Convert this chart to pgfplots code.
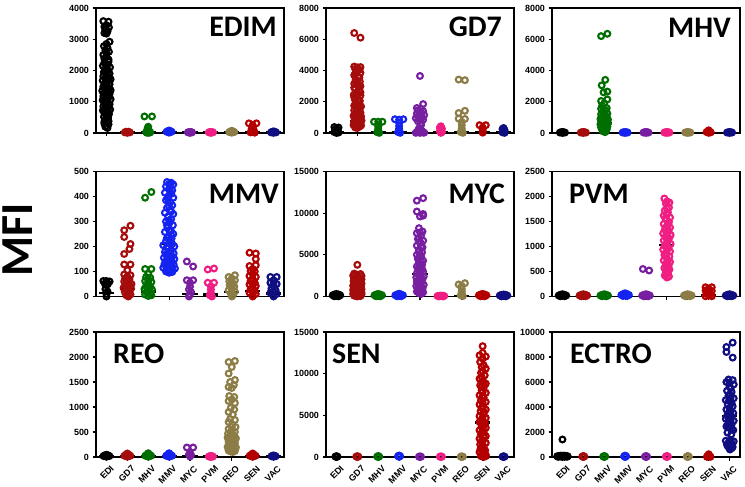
\documentclass[border=0pt]{standalone}
\usepackage{fontspec}
\setmainfont{Liberation Sans}
\newfontfamily\titlefont{Carlito}
\usepackage{pgfplots}
\pgfplotsset{compat=1.18}
\definecolor{cEDI}{RGB}{0,0,0}
\definecolor{cGD7}{RGB}{165,12,12}
\definecolor{cMHV}{RGB}{0,110,0}
\definecolor{cMMV}{RGB}{20,35,240}
\definecolor{cMYC}{RGB}{120,30,160}
\definecolor{cPVM}{RGB}{240,30,130}
\definecolor{cREO}{RGB}{140,125,70}
\definecolor{cSEN}{RGB}{180,0,0}
\definecolor{cVAC}{RGB}{15,15,130}
\newcommand{\tl}{\fontsize{9}{10}\selectfont\bfseries}
\newcommand{\ttl}{\titlefont\bfseries\fontsize{30}{30}\selectfont}
\pgfplotsset{
  panel/.style={scale only axis, width=188bp, height=125bp,
    xmin=0.5, xmax=9.5, ymin=0, clip=false,
    axis line style={line width=1.2bp, black},
    tick style={line width=1.2bp, black},
    tick align=outside, major tick length=3.5bp,
    xtick={1,2,3,4,5,6,7,8,9}, xticklabels={},
    ytick pos=left, xtick pos=bottom,
    tick label style={font=\tl},
    scaled y ticks=false,
    /pgf/number format/assume math mode=true,
    /pgf/number format/1000 sep={}},
  bottomrow/.style={xticklabels={EDI,GD7,MHV,MMV,MYC,PVM,REO,SEN,VAC},
    xticklabel style={rotate=45, anchor=north east, inner sep=0pt, xshift=-0.5bp, yshift=-5.5bp}},
  mk/.style={only marks, mark=o, mark size=2.9bp, draw=#1,
    mark options={line width=2.1bp, draw=#1, fill=none}},
  med/.style={black, line width=2.2bp, no marks},
}
\begin{document}
\begin{tikzpicture}
\useasboundingbox (0,0) rectangle (745bp,487bp);
% ---------------- EDIM ----------------
\begin{axis}[panel, at={(96bp,354bp)}, anchor=south west, ymax=4000, ytick={0,1000,2000,3000,4000}]
\addplot[mk=cEDI] coordinates {(0.85,3580)(1.1,3560)(0.9,3400)(1.12,3380)(0.95,3320)(1.05,3250)(0.9,3200)(1.0,3180)
(1.15,2920)(0.88,2780)(1.05,2720)(0.95,2650)(1.12,2600)(0.85,2500)(1.0,2450)(1.1,2350)
(0.9,2250)(1.05,2200)(0.83,2150)(1.17,2100)(0.95,2050)(1.08,2000)(0.88,1950)(1.15,1900)
(1.0,1880)(0.85,1820)(1.1,1800)(0.95,1750)(1.2,1720)(0.82,1680)(1.05,1650)(0.92,1600)
(1.15,1560)(1.0,1520)(0.85,1480)(1.1,1450)(0.95,1400)(1.2,1370)(0.8,1350)(1.05,1320)
(0.9,1280)(1.15,1250)(1.0,1220)(0.85,1180)(1.1,1150)(0.95,1100)(1.2,1080)(0.82,1050)
(1.05,1000)(0.9,960)(1.15,920)(1.0,880)(0.85,850)(1.1,820)(0.95,780)(1.18,750)(0.83,720)(1.05,680)(0.92,640)(1.12,600)(1.0,560)(0.88,520)(1.08,480)(0.95,420)
(0.9,300)(1.1,280)(0.95,200)(1.05,160)
(1.0,2550)(0.9,2380)(1.1,2280)(1.0,2120)(0.92,1980)(1.1,1680)(0.9,1520)(1.0,1420)(1.12,1320)(0.95,1180)(1.05,1080)(0.9,1000)(1.0,780)(0.9,700)(1.1,650)(1.0,460)(1.1,380)(0.9,360)(1.0,3450)(1.0,2850)};
\addplot[mk=cGD7] coordinates {(1.88,20)(1.94,40)(2,30)(2.06,40)(2.12,20)(2,5)};
\addplot[mk=cMHV] coordinates {(2.82,530)(3.18,530)(3,200)(2.97,150)(3.02,100)(3,60)(2.9,30)(3.1,20)(2.95,5)(3.05,10)};
\addplot[mk=cMMV] coordinates {(3.88,40)(3.94,60)(4,80)(4.06,60)(4.12,40)(4,10)};
\addplot[mk=cMYC] coordinates {(4.9,20)(4.95,30)(5,20)(5.05,30)(5.1,20)(5,5)};
\addplot[mk=cPVM] coordinates {(5.9,20)(5.95,30)(6,20)(6.05,30)(6.1,20)(6,5)};
\addplot[mk=cREO] coordinates {(6.88,30)(6.94,50)(7,70)(7.06,50)(7.12,30)(7,10)};
\addplot[mk=cSEN] coordinates {(7.82,310)(8.18,310)(8,250)(8,180)(7.95,130)(8.05,90)(8,50)(7.9,20)(8.1,10)};
\addplot[mk=cVAC] coordinates {(8.88,20)(8.94,40)(9,50)(9.06,40)(9.12,20)(9,5)};
\addplot[med] coordinates {(0.64,1300)(1.36,1300)};
\addplot[med] coordinates {(1.64,20)(2.36,20)};
\addplot[med] coordinates {(2.64,25)(3.36,25)};
\addplot[med] coordinates {(3.64,20)(4.36,20)};
\addplot[med] coordinates {(4.64,15)(5.36,15)};
\addplot[med] coordinates {(5.64,15)(6.36,15)};
\addplot[med] coordinates {(6.64,25)(7.36,25)};
\addplot[med] coordinates {(7.64,30)(8.36,30)};
\addplot[med] coordinates {(8.64,15)(9.36,15)};
\end{axis}
% ---------------- GD7 ----------------
\begin{axis}[panel, at={(326bp,354bp)}, anchor=south west, ymax=8000, ytick={0,2000,4000,6000,8000}]
\addplot[mk=cEDI] coordinates {(0.9,380)(1.1,350)(1,280)(0.95,200)(1.05,120)(0.9,60)(1.1,30)(1,5)};
\addplot[mk=cGD7] coordinates {(1.85,6400)(2.15,6100)(1.85,4250)(2,4200)(2.15,4220)(1.9,4100)(2.1,4050)(1.95,3900)(2.15,3850)(1.85,3700)(2.05,3600)(1.92,3400)(2.12,3300)(1.85,3150)(2,3100)(2.15,3000)(1.9,2850)(2.08,2700)(1.95,2550)(1.83,2450)(2.15,2400)(2,2300)(1.88,2150)(2.12,2050)(1.95,1950)(2.05,1850)(1.85,1750)(2.18,1700)(1.95,1600)(2.1,1500)(1.85,1450)(2,1400)(2.15,1300)(1.9,1250)(2.05,1150)(1.82,1100)(2.18,1050)(1.95,1000)(2.1,950)(1.88,900)(2.05,850)(2.2,800)(1.85,750)(2,700)(2.15,650)(1.9,600)(2.05,550)(1.82,500)(2.18,480)(1.95,450)(2.1,400)(1.9,350)(2,320)
(2,4000)(1.9,3800)(2.1,3550)(2,3350)(1.95,3200)(2.05,2950)(1.85,2900)(2.15,2600)(2,2500)(1.85,2300)(2.05,2100)(1.9,1800)(2.1,1650)(2,1550)(1.95,1200)(2.1,1100)(2,1050)(2.1,700)(1.85,650)};
\addplot[mk=cMHV] coordinates {(2.8,720)(3,720)(3.2,720)(3,550)(3,400)(3,250)(3,120)(2.95,50)(3.05,10)};
\addplot[mk=cMMV] coordinates {(3.8,880)(4,850)(4.2,880)(4,650)(4,450)(4,280)(4,150)(3.95,60)(4.05,10)};
\addplot[mk=cMYC] coordinates {(5,3650)(5.15,1850)(4.85,1600)(5.05,1550)(4.9,1450)(5.15,1400)(4.85,1250)(5,1200)(5.2,1150)(4.9,1050)(5.1,1000)(4.8,950)(5,900)(5.15,850)(4.9,750)(5.05,500)(4.95,300)(5,150)(4.85,50)(5.15,30)(5,5)(4.8,10)(5.2,20)(5,1350)(4.95,1000)(5.05,650)(4.9,150)(5.1,120)};
\addplot[mk=cPVM] coordinates {(6,430)(5.95,350)(6.05,280)(6,200)(5.95,120)(6.05,60)(6,10)};
\addplot[mk=cREO] coordinates {(6.85,3420)(7.15,3380)(7.15,1420)(6.85,1280)(6.85,920)(7.15,900)(7,700)(7,500)(7,300)(7,150)(6.95,60)(7.05,10)};
\addplot[mk=cSEN] coordinates {(7.85,500)(8.15,500)(8,350)(8,200)(8,100)(8,20)};
\addplot[mk=cVAC] coordinates {(9,320)(8.95,250)(9.05,180)(9,100)(8.95,40)(9.05,10)};
\addplot[med] coordinates {(0.64,40)(1.36,40)};
\addplot[med] coordinates {(1.64,760)(2.36,760)};
\addplot[med] coordinates {(2.64,40)(3.36,40)};
\addplot[med] coordinates {(3.64,40)(4.36,40)};
\addplot[med] coordinates {(4.64,40)(5.36,40)};
\addplot[med] coordinates {(5.64,30)(6.36,30)};
\addplot[med] coordinates {(6.64,40)(7.36,40)};
\addplot[med] coordinates {(7.64,40)(8.36,40)};
\addplot[med] coordinates {(8.64,30)(9.36,30)};
\end{axis}
% ---------------- MHV ----------------
\begin{axis}[panel, at={(552bp,354bp)}, anchor=south west, ymax=8000, ytick={0,2000,4000,6000,8000}]
\addplot[mk=cEDI] coordinates {(0.88,30)(0.94,50)(1,60)(1.06,50)(1.12,30)(1,5)};
\addplot[mk=cGD7] coordinates {(1.88,30)(1.94,50)(2,60)(2.06,50)(2.12,30)(2,5)};
\addplot[mk=cMHV] coordinates {(2.85,6200)(3.15,6350)(3.05,3400)(2.88,3050)(3.15,2650)(2.97,2600)(3.15,2150)(2.85,2050)(3.0,1900)(2.9,1750)(3.12,1600)(2.85,1550)(3.05,1450)(2.95,1350)(3.15,1250)(2.85,1200)(3,1100)(3.12,1050)(2.9,1000)(3.05,950)(2.82,900)(3.18,850)(2.95,800)(3.1,750)(2.85,700)(3.0,650)(3.18,600)(2.82,550)(3.05,500)(2.92,450)(3.15,400)(2.85,350)(3,300)(3.12,250)(2.9,200)(3.05,150)
(3,1300)(2.95,1150)(3.05,900)(3,700)(3.05,580)(2.95,480)(3,380)(3.1,320)(2.9,280)(3,220)(3.1,180)(2.95,100)(3.05,60)};
\addplot[mk=cMMV] coordinates {(3.88,30)(3.94,50)(4,60)(4.06,50)(4.12,30)(4,5)};
\addplot[mk=cMYC] coordinates {(4.88,30)(4.94,50)(5,60)(5.06,50)(5.12,30)(5,5)};
\addplot[mk=cPVM] coordinates {(5.88,30)(5.94,50)(6,60)(6.06,50)(6.12,30)(6,5)};
\addplot[mk=cREO] coordinates {(6.88,30)(6.94,50)(7,60)(7.06,50)(7.12,30)(7,5)};
\addplot[mk=cSEN] coordinates {(8,170)(7.9,60)(7.95,90)(8.05,90)(8.1,40)(8,10)};
\addplot[mk=cVAC] coordinates {(8.88,30)(8.94,50)(9,60)(9.06,50)(9.12,30)(9,5)};
\addplot[med] coordinates {(2.64,620)(3.36,620)};
\addplot[med] coordinates {(0.64,20)(2.36,20)};
\addplot[med] coordinates {(3.64,20)(9.36,20)};
\end{axis}
% ---------------- MMV ----------------
\begin{axis}[panel, at={(96bp,190.5bp)}, anchor=south west, ymax=500, ytick={0,100,200,300,400,500}]
\addplot[mk=cEDI] coordinates {(0.85,62)(1.0,62)(1.15,60)(0.93,50)(1.07,50)(1,45)(0.95,30)(1.05,20)(1,10)(1,0)};
\addplot[mk=cGD7] coordinates {(2.15,283)(1.85,265)(1.85,238)(2.15,210)(2.1,190)(1.85,170)(1.85,128)(2.15,128)(2,105)(1.85,88)(2.15,85)(2,80)(1.9,72)(2.1,68)(1.85,60)(2.05,55)(2.2,50)(1.9,45)(2.05,40)(1.82,35)(2.18,32)(1.95,28)(2.1,22)(1.88,18)(2.02,12)(2.15,8)(1.95,5)(2.05,0)(2,65)(1.95,50)(2,35)(2.1,45)};
\addplot[mk=cMHV] coordinates {(2.85,395)(3.15,418)(2.85,110)(3.15,110)(2.9,78)(3.1,75)(3,70)(2.85,62)(3.15,58)(3,50)(2.9,42)(3.1,38)(2.82,30)(3.18,28)(3,25)(2.92,18)(3.08,14)(2.85,8)(3.15,5)(3,2)(3,90)(3,60)(3,38)};
\addplot[mk=cMMV] coordinates {(3.9,458)(4.1,455)(4.2,448)(3.85,440)(4.0,432)(4.15,425)(3.8,415)(4.1,410)(3.95,400)(4.2,395)(3.85,385)(4.05,378)(4.15,365)(3.9,355)(4.05,345)(3.8,335)(4.2,330)(3.95,320)(4.1,310)(3.85,300)(4.02,295)(4.18,285)(3.92,275)(4.08,265)(3.8,258)(4.2,250)(3.98,240)(4.12,232)(3.85,222)(4.05,215)(3.72,205)(4.25,200)(3.95,192)(4.1,185)(3.8,178)(4.22,172)(3.92,165)(4.05,160)(3.75,155)(4.25,150)(3.88,145)(4.12,140)(4.0,135)(3.78,130)(4.22,128)(3.9,122)(4.1,118)(3.72,115)(4.28,112)(3.95,108)(4.05,104)(3.85,100)(4.15,98)(4.0,95)
(4.0,450)(4.05,420)(3.95,390)(4.0,360)(4.1,340)(4.0,305)(3.9,285)(4.0,265)(4.1,245)(3.9,235)(4.0,225)(4.15,210)(3.9,200)(4.0,178)(3.85,168)(4.15,160)(3.95,150)(4.05,145)(3.9,135)(4.1,130)(3.85,120)(4,115)(4.15,108)(3.88,105)(4.08,100)};
\addplot[mk=cMYC] coordinates {(4.85,140)(5.15,120)(4.85,65)(5.15,65)(5,55)(5,40)(4.95,28)(5.05,18)(5,8)(4.95,0)};
\addplot[mk=cPVM] coordinates {(5.85,108)(6.15,112)(5.85,55)(6.15,55)(6,40)(6,28)(6,15)(5.95,5)(6.05,0)};
\addplot[mk=cREO] coordinates {(7.15,85)(6.85,78)(7,72)(7.15,65)(6.88,60)(7.05,52)(6.9,45)(7.12,40)(7,32)(6.85,25)(7.15,20)(6.95,12)(7.05,5)(7,0)(7,58)(7,42)(7,20)};
\addplot[mk=cSEN] coordinates {(7.85,175)(8.15,172)(8.15,150)(7.85,122)(8.15,125)(7.9,102)(8.1,100)(8,90)(7.85,82)(8.15,78)(8,70)(7.9,62)(8.1,55)(7.85,48)(8.15,42)(8,36)(7.9,28)(8.1,22)(7.85,15)(8.15,10)(8,5)(8,0)(8,110)(8,50)(8,18)};
\addplot[mk=cVAC] coordinates {(8.85,78)(9.15,78)(9,65)(8.85,55)(9.15,50)(9,42)(8.9,32)(9.1,25)(8.85,15)(9.15,10)(9,5)(9,0)(9,52)(9,20)};
\addplot[med] coordinates {(0.64,15)(1.36,15)};
\addplot[med] coordinates {(1.64,30)(2.36,30)};
\addplot[med] coordinates {(2.64,20)(3.36,20)};
\addplot[med] coordinates {(3.64,210)(4.36,210)};
\addplot[med] coordinates {(4.64,10)(5.36,10)};
\addplot[med] coordinates {(5.64,8)(6.36,8)};
\addplot[med] coordinates {(6.64,18)(7.36,18)};
\addplot[med] coordinates {(7.64,22)(8.36,22)};
\addplot[med] coordinates {(8.64,12)(9.36,12)};
\end{axis}
% ---------------- MYC ----------------
\begin{axis}[panel, at={(326bp,190.5bp)}, anchor=south west, ymax=15000, ytick={0,5000,10000,15000}]
\addplot[mk=cEDI] coordinates {(0.82,150)(0.91,250)(1,300)(1.09,250)(1.18,150)(0.9,30)(1.1,30)(1,80)};
\addplot[mk=cGD7] coordinates {(2,3800)(1.85,2750)(2.15,2700)(2,2600)(1.8,2500)(2.2,2450)(1.95,2350)(2.1,2250)(1.85,2150)(2.2,2050)(2,1950)(1.82,1850)(2.12,1750)(1.95,1650)(2.2,1550)(1.85,1450)(2.05,1400)(1.8,1300)(2.18,1250)(1.95,1150)(2.1,1100)(1.85,1000)(2,950)(2.2,850)(1.8,800)(2.05,750)(1.92,650)(2.15,600)(1.82,550)(2,500)(2.2,450)(1.9,400)(2.08,350)(1.8,300)(2.2,250)(1.95,200)(2.05,150)(1.85,100)(2.15,50)(2,10)
(2,2300)(1.98,2000)(2,1700)(2,1200)(1.98,900)(2.05,400)(1.95,50)};
\addplot[mk=cMHV] coordinates {(2.82,150)(2.91,250)(3,300)(3.09,250)(3.18,150)(2.9,30)(3.1,30)(3,80)};
\addplot[mk=cMMV] coordinates {(3.82,150)(3.91,250)(4,330)(4.09,250)(4.18,150)(3.9,30)(4.1,30)(4,80)};
\addplot[mk=cMYC] coordinates {(5.15,11800)(4.85,11500)(4.85,10200)(5.15,9900)(5.0,9600)(5.15,9700)(4.95,8200)(5.12,7800)(4.85,7600)(5.05,7300)(4.9,6900)(5.15,6700)(5,6400)(4.85,6100)(5.12,5900)(4.95,5600)(5.1,5300)(4.85,5000)(5.05,4800)(4.9,4500)(5.15,4300)(4.95,4000)(5.1,3800)(4.85,3600)(5.05,3400)(4.92,3200)(5.15,3000)(4.85,2800)(5.02,2600)(5.18,2400)(4.82,2300)(4.95,2100)(5.1,1950)(4.85,1800)(5.05,1650)(4.9,1500)(5.18,1400)(4.82,1250)(5,1100)(5.12,950)(4.9,850)(5.05,700)(4.85,600)(5.15,500)(4.95,400)(5.05,300)
(5,7700)(4.95,7000)(5,6600)(5.05,6000)(4.95,5400)(5,5100)(4.95,4700)(5.05,4200)(5,3900)(4.95,3500)(5.1,3300)(5,2900)(4.95,2500)(5.08,2200)(5,2000)(4.95,1700)(5.05,1300)(4.95,1000)(5.05,550)};
\addplot[mk=cPVM] coordinates {(5.84,60)(5.92,90)(6,110)(6.08,90)(6.16,60)(5.92,10)(6.08,10)};
\addplot[mk=cREO] coordinates {(6.85,1450)(7.15,1600)(7,1250)(7,900)(7,600)(7,350)(6.95,150)(7.05,50)};
\addplot[mk=cSEN] coordinates {(7.82,150)(7.91,250)(8,300)(8.09,250)(8.18,150)(7.9,30)(8.1,30)(8,80)};
\addplot[mk=cVAC] coordinates {(8.82,120)(8.91,200)(9,240)(9.09,200)(9.18,120)(8.9,20)(9.1,20)(9,60)};
\addplot[med] coordinates {(1.64,650)(2.36,650)};
\addplot[med] coordinates {(4.64,2700)(5.36,2700)};
\addplot[med] coordinates {(6.64,100)(7.36,100)};
\end{axis}
% ---------------- PVM ----------------
\begin{axis}[panel, at={(552bp,190.5bp)}, anchor=south west, ymax=2500, ytick={0,500,1000,1500,2000,2500}]
\addplot[mk=cEDI] coordinates {(0.82,20)(0.91,35)(1,45)(1.09,35)(1.18,20)(0.9,5)(1.1,5)};
\addplot[mk=cGD7] coordinates {(1.82,20)(1.91,35)(2,45)(2.09,35)(2.18,20)(1.9,5)(2.1,5)};
\addplot[mk=cMHV] coordinates {(2.82,20)(2.91,35)(3,45)(3.09,35)(3.18,20)(2.9,5)(3.1,5)};
\addplot[mk=cMMV] coordinates {(3.82,30)(3.91,50)(4,65)(4.09,50)(4.18,30)(3.9,10)(4.1,10)};
\addplot[mk=cMYC] coordinates {(4.85,550)(5.15,520)(4.82,20)(4.91,35)(5,45)(5.09,35)(5.18,20)(4.9,5)(5.1,5)};
\addplot[mk=cPVM] coordinates {(5.88,1960)(6.12,1880)(5.95,1860)(6.1,1780)(5.9,1720)(6.05,1680)(5.85,1620)(6.15,1580)(5.98,1540)(6.1,1490)(5.85,1450)(6.02,1420)(6.15,1380)(5.9,1340)(6.08,1300)(5.82,1260)(6.18,1230)(5.95,1200)(6.1,1160)(5.85,1120)(6.02,1080)(6.18,1050)(5.9,1010)(6.08,970)(5.82,940)(6.15,900)(5.98,870)(5.88,830)(6.12,800)(6,760)(5.85,720)(6.15,690)(5.95,650)(6.08,610)(5.88,570)(6.12,540)(5.95,500)(6.05,460)(5.9,420)(6.1,400)(6,380)
(6,1900)(6,1760)(6,1640)(5.92,1560)(6.05,1470)(5.95,1380)(6.05,1330)(5.98,1250)(6,1140)(5.95,1040)(6.02,990)(6,920)(5.95,860)(6.05,720)(6,680)(5.98,600)(6.02,520)(5.95,440)};
\addplot[mk=cREO] coordinates {(6.82,20)(6.91,35)(7,45)(7.09,35)(7.18,20)(6.9,5)(7.1,5)};
\addplot[mk=cSEN] coordinates {(7.85,185)(8.15,185)(8,150)(7.85,120)(8.15,110)(8,80)(7.9,50)(8.1,40)(8,20)(7.85,5)(8.15,5)(8,120)(7.95,60)};
\addplot[mk=cVAC] coordinates {(8.82,20)(8.91,35)(9,45)(9.09,35)(9.18,20)(8.9,5)(9.1,5)};
\addplot[med] coordinates {(5.64,1030)(6.36,1030)};
\addplot[med] coordinates {(7.64,30)(8.36,30)};
\end{axis}
% ---------------- REO ----------------
\begin{axis}[panel, bottomrow, at={(96bp,30bp)}, anchor=south west, ymax=2500, ytick={0,500,1000,1500,2000,2500}]
\addplot[mk=cEDI] coordinates {(0.86,20)(0.93,35)(1,45)(1.07,35)(1.14,20)(1,5)};
\addplot[mk=cGD7] coordinates {(1.86,25)(1.93,45)(2,70)(2.07,45)(2.14,25)(2,5)};
\addplot[mk=cMHV] coordinates {(2.86,25)(2.93,45)(3,75)(3.07,45)(3.14,25)(3,5)};
\addplot[mk=cMMV] coordinates {(3.86,25)(3.93,45)(4,75)(4.07,45)(4.14,25)(4,5)};
\addplot[mk=cMYC] coordinates {(4.85,190)(5.15,190)(5,80)(4.95,50)(5.05,40)(5,10)};
\addplot[mk=cPVM] coordinates {(5.9,10)(5.95,15)(6,20)(6.05,15)(6.1,10)(6,0)};
\addplot[mk=cREO] coordinates {(6.85,1900)(7.15,1920)(7.0,1800)(6.85,1670)(7.15,1540)(6.92,1500)(7.1,1440)(6.85,1400)(7.0,1380)(6.88,1220)(7.12,1200)(7,1150)(6.85,1120)(7.15,1080)(6.95,980)(7.12,950)(6.85,900)(7.05,850)(6.92,760)(7.15,740)(6.85,700)(7.02,650)(7.18,600)(6.85,560)(7.0,530)(7.15,500)(6.82,470)(6.95,440)(7.12,420)(6.8,390)(7.2,370)(6.9,350)(7.05,330)(6.85,300)(7.15,280)(7,260)(6.88,240)(7.12,220)(6.95,200)(7.05,180)(6.9,160)(7.1,140)(7,120)
(7,600)(6.95,480)(7.05,450)(7.15,360)(6.85,340)(7,300)(6.9,270)(7.1,250)(6.8,200)(7.2,190)(7,170)(6.85,130)(7.15,120)(6.95,110)(7.05,100)};
\addplot[mk=cSEN] coordinates {(7.86,25)(7.93,45)(8,70)(8.07,45)(8.14,25)(8,5)};
\addplot[mk=cVAC] coordinates {(8.9,15)(8.95,25)(9,30)(9.05,25)(9.1,15)(9,5)};
\addplot[med] coordinates {(0.64,15)(1.36,15)};
\addplot[med] coordinates {(1.64,25)(2.36,25)};
\addplot[med] coordinates {(2.64,25)(3.36,25)};
\addplot[med] coordinates {(3.64,25)(4.36,25)};
\addplot[med] coordinates {(4.64,20)(5.36,20)};
\addplot[med] coordinates {(5.64,10)(6.36,10)};
\addplot[med] coordinates {(6.64,390)(7.36,390)};
\addplot[med] coordinates {(7.64,25)(8.36,25)};
\addplot[med] coordinates {(8.64,15)(9.36,15)};
\end{axis}
% ---------------- SEN ----------------
\begin{axis}[panel, bottomrow, at={(326bp,30bp)}, anchor=south west, ymax=15000, ytick={0,5000,10000,15000}]
\addplot[mk=cEDI] coordinates {(0.95,50)(1.05,50)(1,100)(1,0)};
\addplot[mk=cGD7] coordinates {(1.95,50)(2.05,50)(2,100)(2,0)};
\addplot[mk=cMHV] coordinates {(2.95,50)(3.05,50)(3,120)(3,0)};
\addplot[mk=cMMV] coordinates {(3.95,100)(4.05,100)(4,180)(4,20)};
\addplot[mk=cMYC] coordinates {(4.95,40)(5.05,40)(5,80)(5,0)};
\addplot[mk=cPVM] coordinates {(5.95,40)(6.05,40)(6,80)(6,0)};
\addplot[mk=cREO] coordinates {(6.95,40)(7.05,40)(7,80)(7,0)};
\addplot[mk=cSEN] coordinates {(8,13300)(7.85,12200)(8.15,12050)(7.88,11400)(8.05,11000)(8.15,10600)(7.92,10100)(8.1,9800)(7.85,9400)(8.02,9100)(8.15,8800)(7.88,8600)(8.05,8300)(7.95,8000)(8.15,7700)(7.85,7400)(8.05,7100)(7.92,6800)(8.15,6600)(7.85,6300)(8.02,6000)(8.15,5700)(7.9,5500)(8.05,5200)(7.85,4900)(8.15,4700)(7.98,4400)(7.85,4200)(8.12,4000)(7.95,3700)(8.15,3500)(7.85,3200)(8.05,3000)(7.92,2700)(8.15,2500)(7.85,2200)(8.02,2000)(8.15,1700)(7.88,1500)(8.05,1200)(7.9,1000)(8.12,800)(7.85,600)(8.02,400)(8.15,250)(7.92,100)(8.05,0)
(8,12500)(8,11800)(7.95,10800)(8,10300)(7.97,9500)(8.05,8900)(7.95,8400)(8,7800)(7.98,7200)(8,6500)(7.95,5900)(8.05,5400)(8,4800)(7.95,4300)(8.05,3800)(8,3400)(7.95,2900)(8.05,2400)(7.95,1900)(8,1400)(7.95,900)(8.08,500)(7.95,300)(8.15,100)};
\addplot[mk=cVAC] coordinates {(8.95,40)(9.05,40)(9,90)(9,0)};
\addplot[med] coordinates {(7.64,4150)(8.36,4150)};
\addplot[med] coordinates {(0.64,20)(7.36,20)};
\end{axis}
% ---------------- ECTRO ----------------
\begin{axis}[panel, bottomrow, at={(552bp,30bp)}, anchor=south west, ymax=10000, ytick={0,2000,4000,6000,8000,10000}]
\addplot[mk=cEDI] coordinates {(1,1400)(0.75,60)(0.83,90)(0.92,110)(1.0,90)(1.08,110)(1.17,90)(1.25,60)(0.8,10)(0.95,20)(1.1,10)(1.22,20)(1,40)};
\addplot[mk=cGD7] coordinates {(1.95,40)(2.05,40)(2,80)(2,0)};
\addplot[mk=cMHV] coordinates {(2.95,40)(3.05,40)(3,80)(3,0)};
\addplot[mk=cMMV] coordinates {(3.95,60)(4.05,60)(4,110)(4,0)};
\addplot[mk=cMYC] coordinates {(4.95,40)(5.05,40)(5,80)(5,0)};
\addplot[mk=cPVM] coordinates {(5.95,40)(6.05,40)(6,80)(6,0)};
\addplot[mk=cREO] coordinates {(6.95,40)(7.05,40)(7,80)(7,0)};
\addplot[mk=cSEN] coordinates {(8,220)(8,120)(7.93,60)(8.07,60)(7.92,10)(8.08,10)};
\addplot[mk=cVAC] coordinates {(9.15,9150)(8.85,8800)(8.85,8400)(9.15,7950)(8.95,6200)(9.15,6150)(8.85,6000)(9.2,5800)(9.0,5600)(8.88,5300)(9.1,5200)(8.95,4900)(9.2,4700)(8.82,4550)(9.05,4400)(8.92,4200)(9.15,4050)(8.85,3800)(9.02,3650)(9.18,3500)(8.9,3350)(9.08,3200)(8.82,3050)(9.2,2900)(8.95,2750)(9.1,2600)(8.85,2450)(9.02,2300)(9.18,2150)(8.9,1950)(9.08,1800)(8.82,1300)(9.2,1250)(8.95,1150)(9.1,1100)(8.88,1000)(9.05,900)(9.15,800)(8.98,700)(9.02,600)
(9,5900)(9.05,5500)(9,5000)(9.05,4750)(8.97,4500)(9.1,4300)(9,3900)(8.95,3500)(9.05,3400)(8.95,3100)(9.05,2950)(9,2700)(8.95,2400)(9.1,2200)(9,1300)(9.05,1200)(8.9,900)(9.1,700)};
\addplot[med] coordinates {(8.64,3300)(9.36,3300)};
\addplot[med] coordinates {(0.64,30)(8.36,30)};
\end{axis}
% ---------------- titles ----------------
\node[anchor=base east, inner sep=0] at (277bp,450bp) {\ttl EDIM};
\node[anchor=base east, inner sep=0] at (502bp,450bp) {\ttl GD7};
\node[anchor=base east, inner sep=0] at (731bp,449bp) {\ttl MHV};
\node[anchor=base east, inner sep=0] at (279bp,283bp) {\ttl MMV};
\node[anchor=base east, inner sep=0] at (505bp,283bp) {\ttl MYC};
\node[anchor=base west, inner sep=0] at (569bp,283bp) {\ttl PVM};
\node[anchor=base west, inner sep=0] at (113bp,123bp) {\ttl REO};
\node[anchor=base west, inner sep=0] at (332bp,123bp) {\ttl SEN};
\node[anchor=base west, inner sep=0] at (570bp,123bp) {\ttl ECTRO};
\node[rotate=90, inner sep=0] at (18bp,247bp) {\titlefont\bfseries\fontsize{46}{46}\selectfont MFI};
\end{tikzpicture}
\end{document}
